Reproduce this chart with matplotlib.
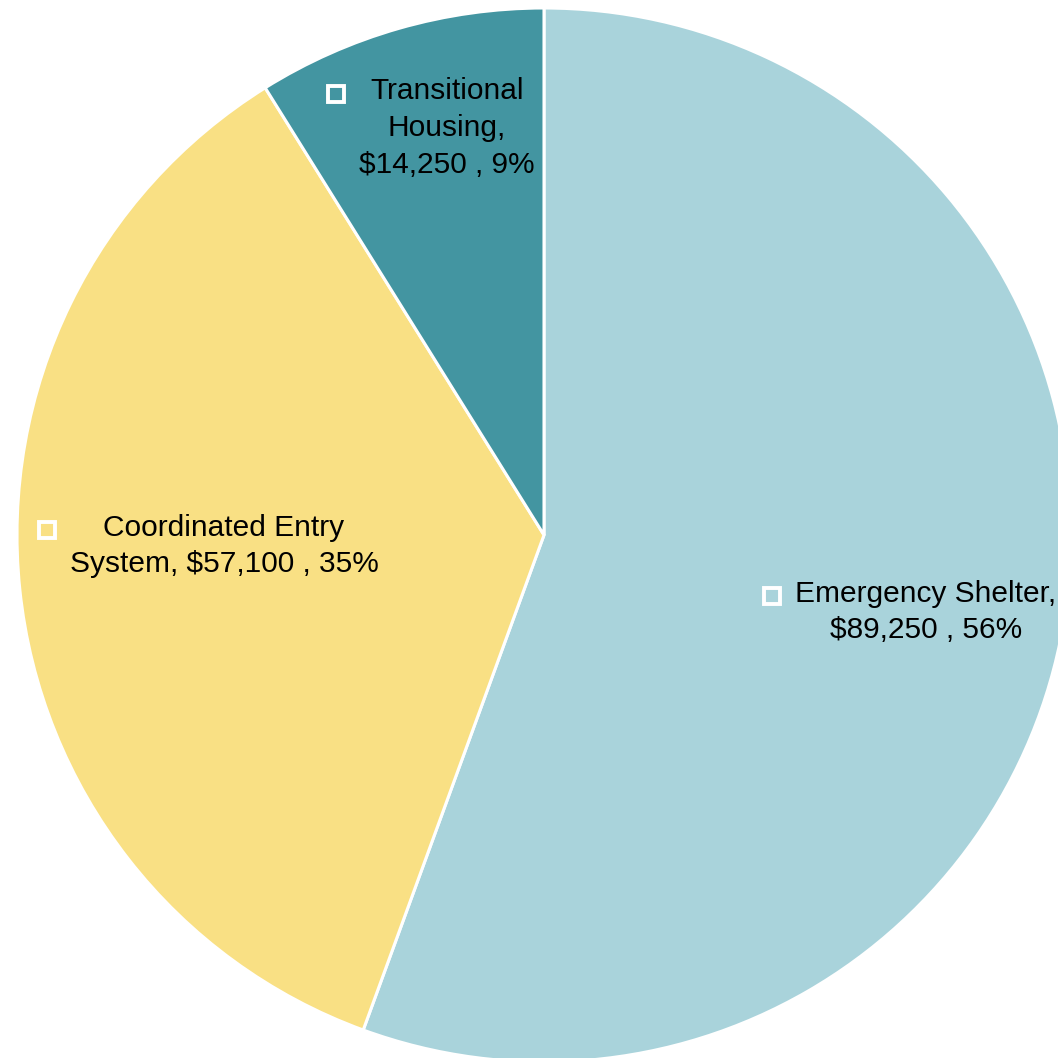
import matplotlib
matplotlib.use("Agg")
import matplotlib.pyplot as plt

# data
categories = ["Emergency Shelter", "Coordinated Entry System", "Transitional Housing"]
amounts = [89250, 57100, 14250]
pct_shown = [56, 35, 9]
label_text = [
    "Emergency Shelter,\n$89,250 , 56%",
    "Coordinated Entry\nSystem, $57,100 , 35%",
    "Transitional\nHousing,\n$14,250 , 9%",
]

# styling / layout (pixel coords, y measured from the top of the image)
colors = ["#A9D3DB", "#F9E084", "#4395A1"]
W = H = 1058
CENTER = (544, 535)
RADIUS = 527
LABEL_XY = [(926, 612), (224, 546), (447, 128)]

fig = plt.figure(figsize=(W / 100, H / 100), dpi=100)
ax = fig.add_axes([0, 0, 1, 1])
ax.pie(amounts, colors=colors, startangle=90, counterclock=False,
       center=(CENTER[0], H - CENTER[1]), radius=RADIUS, frame=True,
       wedgeprops=dict(edgecolor="white", linewidth=2.2))
ax.set_xlim(0, W)
ax.set_ylim(0, H)
ax.set_aspect("equal")
ax.axis("off")

texts = []
for (x, y), s in zip(LABEL_XY, label_text):
    t = ax.text(x, H - y, s, ha="center", va="center", fontsize=21.5,
                family="Liberation Sans", color="black", linespacing=1.4)
    texts.append(t)

# white square key marker left of each label's first line
fig.canvas.draw()
r = fig.canvas.get_renderer()
for t, s in zip(texts, label_text):
    bb = t.get_window_extent(r)
    n = s.count("\n") + 1
    line_h = bb.height / n
    mx = bb.x0 - 23
    my = bb.y1 - line_h / 2
    ax.plot(mx, my, marker="s", markersize=11, markerfacecolor="none",
            markeredgecolor="white", markeredgewidth=2.8)

fig.savefig("out.png", dpi=100)
